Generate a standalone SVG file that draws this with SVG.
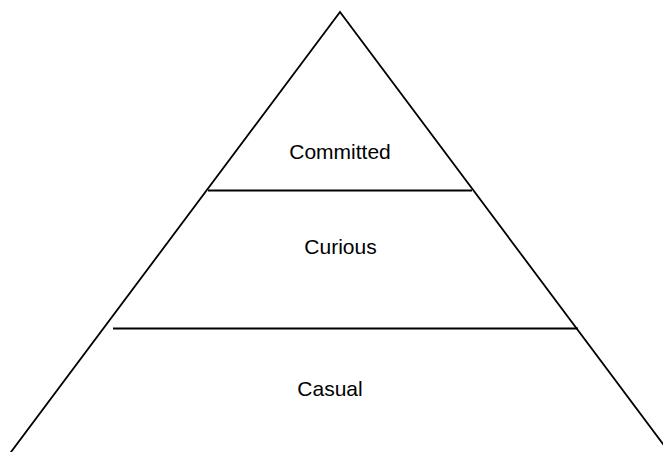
<svg xmlns="http://www.w3.org/2000/svg" width="663" height="452" viewBox="0 0 663 452">
<style>
.ln{fill:none;stroke:#000;stroke-width:1.8;stroke-linecap:butt}
.lb{font-family:"Liberation Sans",Arial,sans-serif;font-size:21px;fill:#000;text-anchor:middle}
</style>
<rect width="663" height="452" fill="#fff"/>
<g id="pyramid">
<polyline class="ln" points="8,456 340,12 672,456"/>
</g>
<g id="connectors">
<line class="ln" x1="208" y1="190.5" x2="472" y2="190.5"/>
<line class="ln" x1="113" y1="328.5" x2="578" y2="328.5"/>
</g>
<g id="committed"><text class="lb" x="340" y="158.5">Committed</text></g>
<g id="curious"><text class="lb" x="340.5" y="253.5">Curious</text></g>
<g id="casual"><text class="lb" x="330" y="396">Casual</text></g>
</svg>
